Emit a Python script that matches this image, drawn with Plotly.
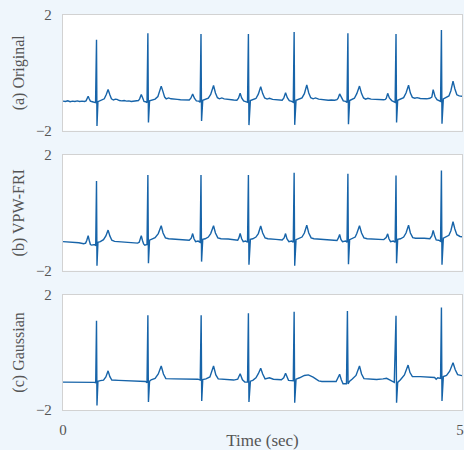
import plotly.graph_objects as go
from plotly.subplots import make_subplots

# ---- data (time in sec, amplitude) ----
original_t = [0.00, 0.03, 0.06, 0.09, 0.12, 0.15, 0.18, 0.21, 0.24, 0.27,
              0.29, 0.30, 0.317, 0.33, 0.345, 0.37, 0.395, 0.41,
              0.422, 0.428, 0.44, 0.46, 0.49, 0.52, 0.545, 0.568, 0.59, 0.61, 0.635, 0.66, 0.68, 0.71, 0.74, 0.77, 0.80, 0.83, 0.86, 0.89, 0.92, 0.95,
              0.965, 0.986, 1.005, 1.02, 1.04, 1.058, 1.069, 1.076, 1.09, 1.12, 1.16, 1.195, 1.215, 1.237, 1.26, 1.28, 1.30, 1.33, 1.36, 1.40, 1.44, 1.48, 1.52, 1.56, 1.59,
              1.61, 1.633, 1.655, 1.68, 1.71, 1.727, 1.738, 1.745, 1.76, 1.79, 1.83, 1.86, 1.896, 1.92, 1.945, 1.97, 2.00, 2.03, 2.07, 2.11, 2.15, 2.19,
              2.21, 2.231, 2.25, 2.275, 2.30, 2.324, 2.335, 2.342, 2.36, 2.39, 2.43, 2.46, 2.49, 2.515, 2.54, 2.57, 2.60, 2.64, 2.68, 2.72, 2.76,
              2.78, 2.803, 2.825, 2.85, 2.88, 2.90, 2.911, 2.918, 2.935, 2.97, 3.01, 3.04, 3.07, 3.095, 3.12, 3.15, 3.18, 3.22, 3.26, 3.30, 3.34, 3.38, 3.42, 3.45,
              3.465, 3.484, 3.505, 3.53, 3.56, 3.577, 3.588, 3.595, 3.61, 3.64, 3.67, 3.70, 3.734, 3.76, 3.785, 3.81, 3.84, 3.88, 3.92, 3.96, 4.00, 4.04, 4.06,
              4.072, 4.089, 4.11, 4.14, 4.165, 4.183, 4.194, 4.201, 4.215, 4.25, 4.29, 4.32, 4.352, 4.375, 4.40, 4.43, 4.46, 4.50, 4.54, 4.58, 4.62, 4.645,
              4.662, 4.685, 4.71, 4.735, 4.755, 4.766, 4.773, 4.79, 4.82, 4.86, 4.885, 4.912, 4.935, 4.96, 4.99, 5.03]
original_v = [-0.98, -0.99, -0.97, -1.00, -0.98, -0.99, -0.97, -0.99, -0.98, -0.99,
              -0.97, -0.92, -0.81, -0.90, -0.98, -1.00, -1.01, -1.03,
              1.14, -1.84, -1.00, -0.98, -0.95, -0.90, -0.75, -0.58, -0.76, -0.90, -0.94, -0.91, -0.92, -0.96, -0.97, -0.96, -0.98, -0.97, -0.99, -0.98, -0.98, -0.96,
              -0.90, -0.75, -0.88, -0.99, -1.00, -1.03, 1.37, -1.72, -0.97, -0.95, -0.91, -0.82, -0.62, -0.46, -0.66, -0.84, -0.90, -0.87, -0.90, -0.92, -0.92, -0.93, -0.94, -0.93, -0.94,
              -0.88, -0.73, -0.88, -0.97, -0.98, -1.02, 1.34, -1.67, -0.95, -0.93, -0.88, -0.75, -0.44, -0.70, -0.86, -0.90, -0.87, -0.90, -0.92, -0.93, -0.94, -0.95,
              -0.88, -0.71, -0.87, -0.97, -0.99, -1.02, 1.34, -1.81, -0.96, -0.94, -0.89, -0.74, -0.48, -0.72, -0.87, -0.91, -0.88, -0.92, -0.93, -0.94, -0.95,
              -0.88, -0.69, -0.86, -0.96, -0.99, -1.02, 1.41, -1.80, -0.95, -0.92, -0.87, -0.72, -0.42, -0.70, -0.86, -0.90, -0.87, -0.91, -0.93, -0.94, -0.95, -0.94, -0.95, -0.93,
              -0.88, -0.73, -0.87, -0.97, -0.99, -1.03, 1.37, -1.78, -0.96, -0.93, -0.88, -0.72, -0.46, -0.72, -0.87, -0.91, -0.88, -0.91, -0.92, -0.93, -0.94, -0.93, -0.92,
              -0.88, -0.71, -0.87, -0.96, -0.98, -1.02, 1.34, -1.72, -0.95, -0.92, -0.86, -0.70, -0.43, -0.70, -0.85, -0.88, -0.86, -0.89, -0.90, -0.90, -0.88, -0.84,
              -0.58, -0.82, -0.93, -0.95, -0.99, 1.48, -1.76, -0.90, -0.86, -0.80, -0.62, -0.29, -0.55, -0.76, -0.80, -0.81]

vpw_t = [0.00, 0.10, 0.20, 0.26, 0.285, 0.30, 0.317, 0.33, 0.345, 0.36, 0.40, 0.412,
         0.422, 0.428, 0.44, 0.47, 0.51, 0.54, 0.568, 0.59, 0.615, 0.65, 0.72, 0.80, 0.88, 0.94,
         0.96, 0.972, 0.986, 1.00, 1.015, 1.03, 1.058, 1.069, 1.076, 1.09, 1.12, 1.16, 1.20, 1.237, 1.26, 1.29, 1.33, 1.42, 1.52, 1.59,
         1.615, 1.633, 1.65, 1.67, 1.70, 1.727, 1.738, 1.745, 1.76, 1.79, 1.83, 1.86, 1.896, 1.92, 1.95, 1.99, 2.08, 2.17, 2.20,
         2.215, 2.231, 2.25, 2.27, 2.30, 2.324, 2.335, 2.342, 2.36, 2.39, 2.43, 2.46, 2.49, 2.515, 2.545, 2.58, 2.68, 2.76,
         2.785, 2.803, 2.82, 2.845, 2.88, 2.90, 2.911, 2.918, 2.935, 2.97, 3.01, 3.04, 3.07, 3.095, 3.125, 3.16, 3.28, 3.40, 3.45,
         3.467, 3.484, 3.50, 3.52, 3.56, 3.577, 3.588, 3.595, 3.61, 3.64, 3.68, 3.70, 3.734, 3.76, 3.79, 3.83, 3.94, 4.04,
         4.07, 4.089, 4.105, 4.125, 4.16, 4.183, 4.194, 4.201, 4.215, 4.25, 4.29, 4.32, 4.352, 4.375, 4.405, 4.44, 4.55, 4.62,
         4.645, 4.662, 4.68, 4.70, 4.73, 4.755, 4.766, 4.773, 4.79, 4.82, 4.86, 4.885, 4.912, 4.935, 4.96, 5.00, 5.03]
vpw_v = [-1.00, -1.01, -1.04, -1.07, -1.05, -0.95, -0.79, -0.95, -1.10, -1.12, -1.10, -1.14,
         1.10, -1.83, -1.02, -1.00, -0.93, -0.80, -0.60, -0.80, -0.95, -0.99, -1.00, -1.01, -1.02, -1.05,
         -1.02, -0.92, -0.79, -0.95, -1.08, -1.12, -1.10, 1.31, -1.75, -0.95, -0.92, -0.86, -0.72, -0.45, -0.70, -0.87, -0.90, -0.91, -0.92, -0.95,
         -0.88, -0.72, -0.90, -1.00, -0.98, -1.02, 1.31, -1.69, -0.92, -0.90, -0.84, -0.72, -0.45, -0.70, -0.87, -0.90, -0.91, -0.93, -0.95,
         -0.87, -0.72, -0.90, -1.00, -0.98, -1.02, 1.31, -1.80, -0.92, -0.90, -0.84, -0.72, -0.46, -0.70, -0.87, -0.90, -0.92, -0.94,
         -0.87, -0.72, -0.90, -1.00, -0.98, -1.02, 1.38, -1.83, -0.93, -0.90, -0.84, -0.70, -0.43, -0.70, -0.87, -0.90, -0.92, -0.93, -0.96,
         -0.88, -0.75, -0.92, -1.00, -0.98, -1.02, 1.35, -1.78, -0.93, -0.90, -0.84, -0.72, -0.45, -0.70, -0.87, -0.90, -0.91, -0.93,
         -0.86, -0.73, -0.90, -1.00, -0.98, -1.02, 1.29, -1.75, -0.92, -0.90, -0.84, -0.70, -0.43, -0.70, -0.86, -0.88, -0.88, -0.90,
         -0.80, -0.61, -0.80, -0.94, -0.95, -0.99, 1.46, -1.80, -0.88, -0.84, -0.78, -0.62, -0.31, -0.56, -0.76, -0.82, -0.83]

gauss_t = [0.00, 0.20, 0.40, 0.412, 0.422, 0.428, 0.44, 0.47, 0.51, 0.54, 0.568, 0.59, 0.615, 0.70, 0.85, 0.95, 1.04, 1.058,
           1.069, 1.076, 1.09, 1.11, 1.16, 1.20, 1.237, 1.265, 1.295, 1.40, 1.55, 1.70, 1.728,
           1.740, 1.747, 1.76, 1.80, 1.85, 1.896, 1.925, 1.955, 2.05, 2.15, 2.20, 2.231, 2.26, 2.29, 2.324,
           2.335, 2.342, 2.36, 2.39, 2.43, 2.46, 2.49, 2.515, 2.545, 2.60, 2.65, 2.75, 2.78, 2.803, 2.825, 2.84, 2.90,
           2.911, 2.918, 2.935, 2.98, 3.04, 3.09, 3.15, 3.22, 3.26, 3.44, 3.465, 3.484, 3.505, 3.527, 3.57,
           3.582, 3.590, 3.61, 3.64, 3.69, 3.734, 3.76, 3.79, 3.85, 3.95, 4.03, 4.075, 4.12, 4.172,
           4.194, 4.201, 4.215, 4.25, 4.30, 4.346, 4.37, 4.40, 4.50, 4.60, 4.68, 4.70, 4.72, 4.755,
           4.766, 4.773, 4.79, 4.83, 4.87, 4.912, 4.94, 4.97, 5.03]
gauss_v = [-1.03, -1.03, -1.04, -1.06, 1.10, -1.84, -1.00, -0.98, -0.96, -0.85, -0.64, -0.84, -0.96, -0.97, -0.98, -1.00, -1.01, -1.05,
           1.29, -1.72, -1.00, -0.95, -0.90, -0.75, -0.47, -0.75, -0.91, -0.92, -0.92, -0.93, -0.96,
           1.29, -1.69, -0.94, -0.92, -0.85, -0.47, -0.78, -0.92, -0.95, -0.96, -0.93, -0.74, -0.95, -1.03, -1.03,
           1.36, -1.72, -1.00, -0.97, -0.88, -0.74, -0.55, -0.75, -0.92, -0.88, -0.93, -0.95, -0.88, -0.72, -0.90, -0.97, -0.98,
           1.41, -1.75, -0.93, -0.88, -0.80, -0.78, -0.86, -0.99, -1.01, -1.01, -0.88, -0.76, -0.95, -1.09, -1.09,
           1.44, -1.09, -1.00, -0.93, -0.80, -0.47, -0.75, -0.91, -0.93, -0.94, -0.92, -0.90, -0.96, -1.04,
           1.27, -1.75, -1.04, -0.95, -0.78, -0.44, -0.70, -0.84, -0.84, -0.85, -0.87, -0.93, -0.88, -0.90,
           1.56, -1.69, -0.84, -0.80, -0.65, -0.36, -0.60, -0.77, -0.81]

panel_titles = ["(a) Original", "(b) VPW-FRI", "(c) Gaussian"]
y_ticks = [-2, 2]
x_ticks = [0, 5]
x_title = "Time (sec)"

# ---- styling ----
LINE = "#1764a9"
FONT = "Liberation Serif, Times New Roman, serif"
TXT = "#555555"
BORDER = "#d2d2d2"

fig = make_subplots(rows=3, cols=1, shared_xaxes=False)
series = [(original_t, original_v), (vpw_t, vpw_v), (gauss_t, gauss_v)]
for i, (t, v) in enumerate(series, start=1):
    fig.add_trace(go.Scatter(x=t, y=v, mode="lines",
                             line=dict(color=LINE, width=1.4),
                             showlegend=False, hoverinfo="skip"), row=i, col=1)

domains = [[0.7073, 1.0], [0.3530, 0.6457], [0.0, 0.2915]]
for i in range(3):
    sfx = "" if i == 0 else str(i + 1)
    fig.layout["yaxis" + sfx].update(
        domain=domains[i], range=[-2, 2], tickvals=y_ticks,
        showgrid=False, zeroline=False, showline=True, mirror=True,
        linecolor=BORDER, linewidth=1.3,
        ticks="outside", ticklen=7, tickcolor="rgba(0,0,0,0)",
        tickfont=dict(family=FONT, size=15, color=TXT),
        title=dict(text=panel_titles[i], standoff=7,
                   font=dict(family=FONT, size=16, color=TXT)),
    )
    fig.layout["xaxis" + sfx].update(
        range=[0, 5.025], tickvals=x_ticks,
        showgrid=False, zeroline=False, showline=True, mirror=True,
        linecolor=BORDER, linewidth=1.3,
        ticks="outside", ticklen=6, tickcolor="rgba(0,0,0,0)",
        showticklabels=(i == 2), ticklabeloverflow="allow",
        tickfont=dict(family=FONT, size=15, color=TXT),
    )
fig.layout.xaxis3.title = dict(text=x_title, standoff=0,
                               font=dict(family=FONT, size=17, color=TXT))

fig.update_layout(
    width=464, height=450,
    margin=dict(l=63, r=0, t=15, b=37),
    paper_bgcolor="#eff6fc", plot_bgcolor="#ffffff",
    font=dict(family=FONT, color=TXT),
)

fig.write_html("out.html")
